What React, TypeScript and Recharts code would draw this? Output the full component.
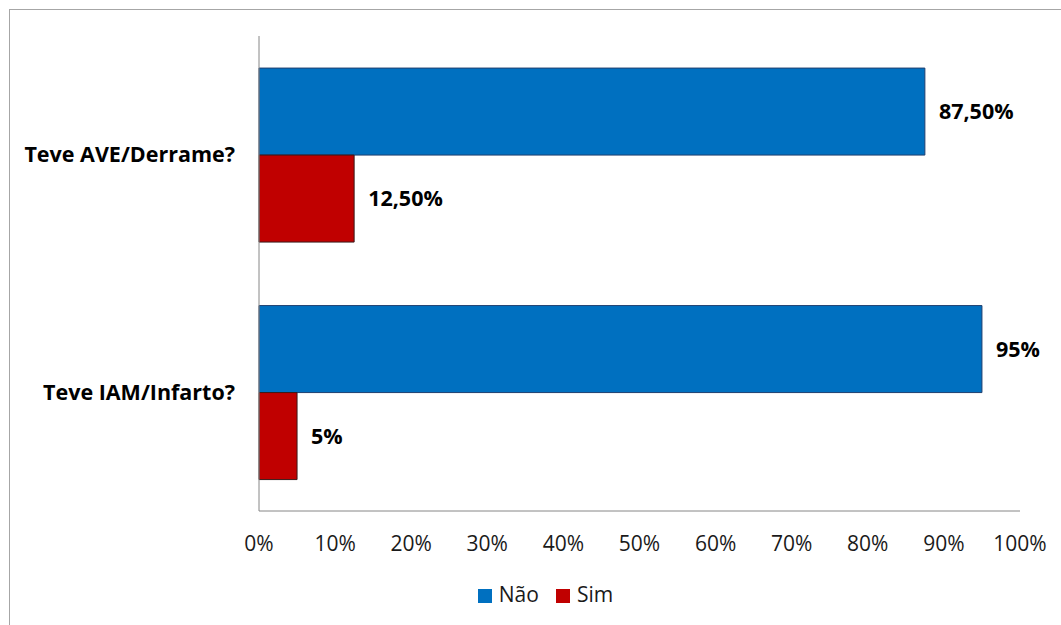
import React from 'react';
import { BarChart, Bar, XAxis, YAxis, Legend, LabelList } from 'recharts';

const categories = ['Teve AVE/Derrame?', 'Teve IAM/Infarto?'];
const naoValues = [87.5, 95];
const simValues = [12.5, 5];
const xTicks = [0, 10, 20, 30, 40, 50, 60, 70, 80, 90, 100];

const data = categories.map((name, i) => ({
  name,
  nao: naoValues[i],
  sim: simValues[i],
}));

const FONT = '"Open Sans", "Liberation Sans", sans-serif';

// 87.5 -> "87,50%", 95 -> "95%"
const pct = (v: unknown) => {
  const n = Number(v);
  return Number.isInteger(n) ? `${n}%` : `${n.toFixed(2).replace('.', ',')}%`;
};

export default function App() {
  return (
    <div
      style={{
        position: 'absolute',
        left: 0,
        top: 0,
        width: 1061,
        height: 625,
        overflow: 'hidden',
        background: '#fff',
        fontFamily: FONT,
      }}
    >
      {/* outer chart frame, only its top/left edges show */}
      <div
        style={{
          position: 'absolute',
          left: 9,
          top: 9,
          width: 1100,
          height: 700,
          border: '1px solid #a6a6a6',
        }}
      />
      <div style={{ position: 'absolute', left: 0, top: 0 }}>
        <BarChart
          width={1061}
          height={625}
          data={data}
          layout="vertical"
          margin={{ top: 36, right: 41, left: 0, bottom: 36 }}
          barCategoryGap="13.5%"
          barGap={0}
        >
          <XAxis
            type="number"
            domain={[0, 100]}
            ticks={xTicks}
            tickFormatter={(v) => `${v}%`}
            tickLine={false}
            tickSize={0}
            tickMargin={25}
            height={50}
            stroke="#868686"
            tick={{ fill: '#1a1a1a', fontSize: 21, fontFamily: FONT }}
          />
          <YAxis
            type="category"
            dataKey="name"
            width={259}
            tickLine={false}
            tickSize={0}
            tickMargin={24}
            stroke="#868686"
            tick={{ fill: '#000', fontSize: 21.5, fontWeight: 700, fontFamily: FONT }}
          />
          <Legend
            verticalAlign="bottom"
            iconType="square"
            iconSize={14}
            wrapperStyle={{ top: 580, left: 39, width: 1030, fontSize: 21, fontFamily: FONT }}
            formatter={(value) => (
              <span style={{ color: '#1a1a1a', paddingLeft: 3, paddingRight: 7 }}>{value}</span>
            )}
          />
          <Bar dataKey="nao" name="Não" fill="#0070C0" stroke="#1f3f6f" strokeWidth={1} isAnimationActive={false}>
            <LabelList
              dataKey="nao"
              position="right"
              offset={14}
              formatter={pct}
              style={{ fill: '#000', fontSize: 21.5, fontWeight: 700, fontFamily: FONT }}
            />
          </Bar>
          <Bar dataKey="sim" name="Sim" fill="#C00000" stroke="#3a1a1a" strokeWidth={1} isAnimationActive={false}>
            <LabelList
              dataKey="sim"
              position="right"
              offset={14}
              formatter={pct}
              style={{ fill: '#000', fontSize: 21.5, fontWeight: 700, fontFamily: FONT }}
            />
          </Bar>
        </BarChart>
      </div>
    </div>
  );
}
